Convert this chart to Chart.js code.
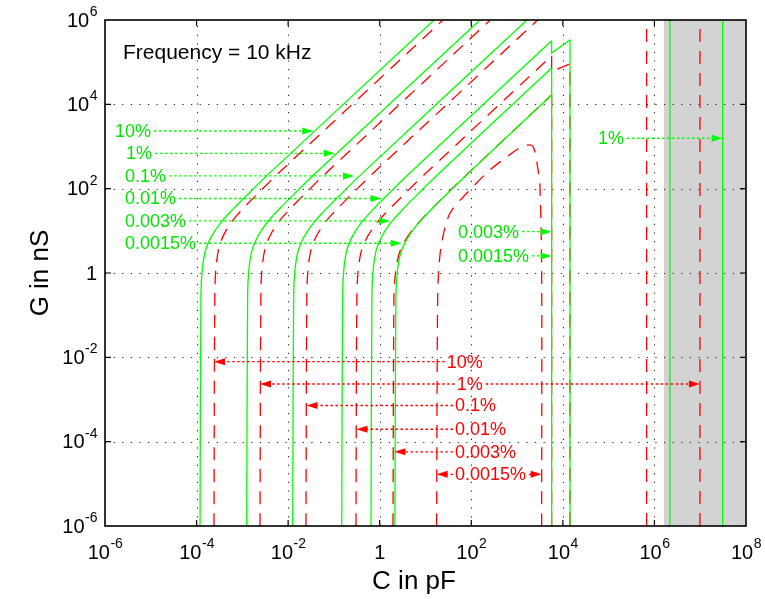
<!DOCTYPE html>
<html>
<head>
<meta charset="utf-8">
<script src="https://cdn.jsdelivr.net/npm/chart.js@4.4.0/dist/chart.umd.min.js"></script>
<style>
  html, body { margin: 0; padding: 0; background: #fff; }
</style>
</head>
<body>
<canvas id="chart" width="765" height="599"></canvas>
<script>
// axis ticks (C in pF on x, G in nS on y)
const xTicks = [1e-6, 1e-4, 1e-2, 1, 1e2, 1e4, 1e6, 1e8];
const xTickLabels = [['10', '-6'], ['10', '-4'], ['10', '-2'], ['1', ''], ['10', '2'], ['10', '4'], ['10', '6'], ['10', '8']];
const yTicks = [1e-6, 1e-4, 1e-2, 1, 1e2, 1e4, 1e6];
const yTickLabels = [['10', '-6'], ['10', '-4'], ['10', '-2'], ['1', ''], ['10', '2'], ['10', '4'], ['10', '6']];

// green (solid) limit curves, [C, G]
const green10 = [[1.19e-4, 1e-6], [1.246e-4, 0.309], [1.335e-4, 1.23], [1.568e-4, 3.47], [2.116e-4, 7.41], [3.353e-4, 15.5], [5.964e-4, 30.9], [1.19e-3, 66], [3.763e-3, 224], [15.3, 1e6]];
const green1 = [[1.245e-3, 1e-6], [1.304e-3, 0.32], [1.397e-3, 1.27], [1.641e-3, 3.59], [2.214e-3, 7.68], [3.508e-3, 16], [6.24e-3, 32], [1.245e-2, 68.4], [3.937e-2, 232], [155, 1e6]];
const green01 = [[1.26e-2, 1e-6], [1.319e-2, 0.305], [1.414e-2, 1.21], [1.661e-2, 3.42], [2.24e-2, 7.32], [3.551e-2, 15.3], [6.315e-2, 30.5], [0.126, 65.2], [0.398, 221], [1644, 1e6]];
const green001 = [[0.148, 1e-6], [0.155, 0.334], [0.166, 1.33], [0.195, 3.75], [0.263, 8.01], [0.417, 16.7], [0.742, 33.4], [1.48, 71.4], [4.68, 242], [5690, 3.23e5]];
const green0003 = [[0.646, 1e-6], [0.676, 0.329], [0.725, 1.31], [0.851, 3.69], [1.149, 7.89], [1.82, 16.5], [3.238, 32.9], [6.46, 70.3], [20.4, 238], [5690, 7.28e4]];
const green00015 = [[2.15, 1e-6], [2.251, 0.251], [2.412, 1.0], [2.834, 2.82], [3.823, 6.03], [6.059, 12.6], [10.78, 25.1], [21.5, 53.7], [68, 182], [5690, 1.67e4]];
const greenEdgeA = [[5690, 3.23e5], [5690, 1.65e5], [1.43e4, 3.36e5], [1.43e4, 1e-6]];
const greenEdgeB = [[5690, 7.28e4], [5690, 1e-6]];
const greenRightA = [[2.18e6, 1e-6], [2.18e6, 1e6]];
const greenRightB = [[3.09e7, 1e-6], [3.09e7, 1e6]];

// red (dashed) limit curves, [C, G]
const red10 = [[2.4e-4, 1e-6], [2.513e-4, 0.398], [2.693e-4, 1.585], [3.163e-4, 4.47], [4.267e-4, 9.55], [6.763e-4, 19.95], [1.203e-3, 39.8], [2.4e-3, 85.1], [7.589e-3, 288], [24, 1e6]];
const red1 = [[2.43e-3, 1e-6], [2.544e-3, 0.371], [2.726e-3, 1.48], [3.203e-3, 4.17], [4.32e-3, 8.91], [6.848e-3, 18.6], [1.218e-2, 37.1], [2.43e-2, 79.4], [7.684e-2, 269], [260, 1e6]];
const red01 = [[2.45e-2, 1e-6], [2.565e-2, 0.347], [2.749e-2, 1.38], [3.229e-2, 3.89], [4.356e-2, 8.32], [6.904e-2, 17.4], [0.1228, 34.7], [0.245, 74.1], [0.775, 251], [2818, 1e6]];
const red001 = [[0.303, 1e-6], [0.317, 0.302], [0.34, 1.2], [0.399, 3.39], [0.539, 7.25], [0.854, 15.1], [1.519, 30.2], [3.03, 64.6], [9.58, 219], [5690, 1.42e5]];
const red0003 = [[1.95, 1e-6], [2.042, 0.229], [2.188, 0.912], [2.57, 2.57], [3.467, 5.49], [5.495, 11.5], [9.773, 22.9], [19.5, 48.9], [61.7, 166], [5690, 1.68e4]];
const red00015 = [[17.5, 1e-6], [18.2, 0.05], [19.05, 0.818], [22.5, 5.07], [34.2, 26.1], [79.4, 77.6], [256, 277], [762, 692], [1000, 851], [1585, 1072], [2239, 1000], [2818, 316], [3162, 110], [3443, 1], [3443, 1e-6]];
const redEdgeA = [[5690, 1.42e5], [5690, 6.0e4], [1.43e4, 9.1e4], [1.43e4, 1e-6]];
const redEdgeB = [[5690, 1.68e4], [5690, 1e-6]];
const redRightA = [[6.76e5, 1e-6], [6.76e5, 1e6]];
const redRightB = [[9.87e6, 1e-6], [9.87e6, 1e6]];

// shaded C range
const shaded = [[1.61e6, 1e6], [1e8, 1e6]];

// labels: text, left edge / middle [C, G], arrow tips (C)
const greenNotes = [
  { text: '10%', at: [1.65e-6, 2330], tips: [0.0354] },
  { text: '1%', at: [2.88e-6, 690], tips: [0.105] },
  { text: '0.1%', at: [2.74e-6, 200], tips: [0.274] },
  { text: '0.01%', at: [2.74e-6, 58.5], tips: [1.10] },
  { text: '0.003%', at: [2.74e-6, 17.2], tips: [1.67] },
  { text: '0.0015%', at: [2.74e-6, 5.07], tips: [3.02] },
  { text: '1%', at: [5.85e4, 1570], tips: [3.09e7] },
  { text: '0.003%', at: [51.2, 9.55], tips: [5690] },
  { text: '0.0015%', at: [51.2, 2.54], tips: [5690] }
];
const redNotes = [
  { text: '10%', at: [29.0, 7.89e-3], tips: [2.4e-4] },
  { text: '1%', at: [48.0, 2.33e-3], tips: [2.43e-3, 9.87e6] },
  { text: '0.1%', at: [44.0, 7.21e-4], tips: [2.52e-2] },
  { text: '0.01%', at: [44.0, 1.97e-4], tips: [0.31] },
  { text: '0.003%', at: [44.0, 5.75e-5], tips: [2.1] },
  { text: '0.0015%', at: [44.0, 1.68e-5], tips: [17.5, 3443] }
];

const GREEN = '#00ff00';
const GREEN_TEXT = '#00e600';
const RED = '#ff0000';
const FONT = '"Liberation Sans", Arial, sans-serif';

function solid(points, tension) {
  return { data: points, showLine: true, borderColor: GREEN, borderWidth: 1.3, pointRadius: 0, tension: tension, fill: false, order: 1 };
}
function dashed(points, tension) {
  return { data: points, showLine: true, borderColor: RED, borderWidth: 1.3, borderDash: [13, 9], pointRadius: 0, tension: tension, fill: false, order: 2 };
}

function arrow(ctx, x0, x1, y, color) {
  const dir = x1 > x0 ? 1 : -1;
  ctx.strokeStyle = color;
  ctx.lineWidth = 1.3;
  ctx.setLineDash([2.5, 2.5]);
  ctx.beginPath();
  ctx.moveTo(x0, y);
  ctx.lineTo(x1 - dir * 9, y);
  ctx.stroke();
  ctx.setLineDash([]);
  ctx.fillStyle = color;
  ctx.beginPath();
  ctx.moveTo(x1, y);
  ctx.lineTo(x1 - dir * 11, y - 3.5);
  ctx.lineTo(x1 - dir * 11, y + 3.5);
  ctx.closePath();
  ctx.fill();
}

function powLabel(ctx, base, exp, x, y, align) {
  ctx.font = '20px ' + FONT;
  const wb = ctx.measureText(base).width;
  ctx.font = '14px ' + FONT;
  const we = exp ? ctx.measureText(exp).width : 0;
  const w = wb + we;
  const left = align === 'center' ? x - w / 2 : x - w;
  ctx.textAlign = 'left';
  ctx.textBaseline = 'middle';
  ctx.fillStyle = '#000';
  ctx.font = '20px ' + FONT;
  ctx.fillText(base, left, y);
  if (exp) {
    ctx.font = '14px ' + FONT;
    ctx.fillText(exp, left + wb + 0.5, y - 9);
  }
}

const frame = {
  id: 'frame',
  beforeDatasetsDraw(chart) {
    const { ctx, chartArea: a, scales: { x, y } } = chart;
    ctx.save();
    ctx.strokeStyle = '#222';
    ctx.lineWidth = 1;
    ctx.setLineDash([1.2, 7.4]);
    xTicks.slice(1, -1).forEach(v => {
      const px = Math.round(x.getPixelForValue(v)) + 0.5;
      ctx.beginPath(); ctx.moveTo(px, a.bottom); ctx.lineTo(px, a.top); ctx.stroke();
    });
    yTicks.slice(1, -1).forEach(v => {
      const py = Math.round(y.getPixelForValue(v)) + 0.5;
      ctx.beginPath(); ctx.moveTo(a.left, py); ctx.lineTo(a.right, py); ctx.stroke();
    });
    ctx.restore();
  },
  afterDatasetsDraw(chart) {
    const { ctx, chartArea: a, scales: { x, y } } = chart;
    ctx.save();

    // labelled arrows
    const notes = (list, color, textColor) => {
      list.forEach(n => {
        ctx.font = '18px ' + FONT;
        const tx = x.getPixelForValue(n.at[0]);
        const ty = y.getPixelForValue(n.at[1]);
        const w = ctx.measureText(n.text).width;
        n.tips.forEach(t => {
          const px = x.getPixelForValue(t);
          if (px > tx) arrow(ctx, tx + w + 3, px, ty, color);
          else arrow(ctx, tx - 2, px, ty, color);
        });
        ctx.fillStyle = textColor;
        ctx.textAlign = 'left';
        ctx.textBaseline = 'middle';
        ctx.fillText(n.text, tx, ty + 1);
      });
    };
    notes(greenNotes, GREEN, GREEN_TEXT);
    notes(redNotes, RED, RED);

    // box and inner ticks
    ctx.setLineDash([]);
    ctx.strokeStyle = '#000';
    ctx.lineWidth = 1.6;
    ctx.strokeRect(a.left, a.top, a.right - a.left, a.bottom - a.top);
    ctx.lineWidth = 1.2;
    xTicks.slice(1, -1).forEach(v => {
      const px = x.getPixelForValue(v);
      ctx.beginPath();
      ctx.moveTo(px, a.bottom); ctx.lineTo(px, a.bottom - 6);
      ctx.moveTo(px, a.top); ctx.lineTo(px, a.top + 6);
      ctx.stroke();
    });
    yTicks.slice(1, -1).forEach(v => {
      const py = y.getPixelForValue(v);
      ctx.beginPath();
      ctx.moveTo(a.left, py); ctx.lineTo(a.left + 6, py);
      ctx.moveTo(a.right, py); ctx.lineTo(a.right - 6, py);
      ctx.stroke();
    });

    // tick labels
    xTicks.forEach((v, i) => powLabel(ctx, xTickLabels[i][0], xTickLabels[i][1], x.getPixelForValue(v), a.bottom + 27, 'center'));
    yTicks.forEach((v, i) => powLabel(ctx, yTickLabels[i][0], yTickLabels[i][1], a.left - 8, y.getPixelForValue(v) + 1, 'right'));

    // axis titles
    ctx.fillStyle = '#000';
    ctx.font = '26px ' + FONT;
    ctx.textAlign = 'center';
    ctx.textBaseline = 'middle';
    ctx.fillText('C in pF', 414, a.bottom + 56);
    ctx.save();
    ctx.translate(41, (a.top + a.bottom) / 2);
    ctx.rotate(-Math.PI / 2);
    ctx.fillText('G in nS', 0, 0);
    ctx.restore();

    ctx.font = '21px ' + FONT;
    ctx.textAlign = 'left';
    ctx.fillText('Frequency = 10 kHz', a.left + 18, a.top + 33);
    ctx.restore();
  }
};

new Chart(document.getElementById('chart'), {
  type: 'scatter',
  data: {
    datasets: [
      { data: shaded, showLine: true, borderWidth: 0, pointRadius: 0, fill: 'start', backgroundColor: 'rgba(0,0,0,0.173)', order: 10 },
      dashed(red10, 0.3), dashed(red1, 0.3), dashed(red01, 0.3), dashed(red001, 0.3), dashed(red0003, 0.3), dashed(red00015, 0.3),
      dashed(redEdgeA, 0), dashed(redEdgeB, 0), dashed(redRightA, 0), dashed(redRightB, 0),
      solid(green10, 0.3), solid(green1, 0.3), solid(green01, 0.3), solid(green001, 0.3), solid(green0003, 0.3), solid(green00015, 0.3),
      solid(greenEdgeA, 0), solid(greenEdgeB, 0), solid(greenRightA, 0), solid(greenRightB, 0)
    ]
  },
  options: {
    responsive: false,
    animation: false,
    events: [],
    layout: { padding: { left: 105, right: 19, top: 20, bottom: 73 } },
    plugins: { legend: { display: false }, tooltip: { enabled: false } },
    scales: {
      x: { type: 'logarithmic', min: 1e-6, max: 1e8, display: false },
      y: { type: 'logarithmic', min: 1e-6, max: 1e6, display: false }
    }
  },
  plugins: [frame]
});
</script>
</body>
</html>
